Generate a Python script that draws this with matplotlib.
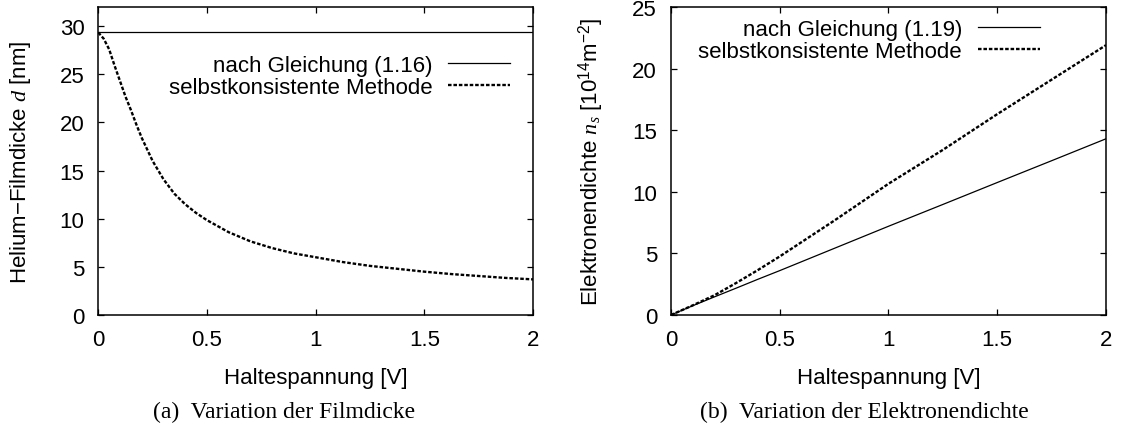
import matplotlib
matplotlib.use('Agg')
import matplotlib.pyplot as plt

plt.rcParams['font.family'] = ['Liberation Sans', 'DejaVu Sans']
plt.rcParams['mathtext.fontset'] = 'custom'
plt.rcParams['mathtext.rm'] = 'Liberation Sans'
plt.rcParams['mathtext.it'] = 'Liberation Serif:italic'

# (a) film thickness vs holding voltage
voltage_a = [0, 0.025, 0.05, 0.075, 0.1, 0.125, 0.15, 0.175, 0.2, 0.25, 0.3, 0.35,
             0.4, 0.45, 0.5, 0.6, 0.7, 0.8, 0.9, 1.0, 1.125, 1.25, 1.375, 1.5,
             1.625, 1.75, 1.875, 2.0]
film_self = [29.35, 28.7, 27.6, 25.9, 24.3, 22.7, 21.3, 19.8, 18.4, 16.0, 14.1, 12.6,
             11.5, 10.6, 9.85, 8.6, 7.65, 6.95, 6.4, 6.0, 5.5, 5.1, 4.8, 4.5,
             4.25, 4.05, 3.85, 3.7]
film_eq = 29.35

# (b) electron density vs holding voltage
voltage_b = [0, 0.1, 0.2, 0.3, 0.4, 0.5, 0.75, 1.0, 1.25, 1.5, 1.75, 2.0]
density_eq = [0, 0.75, 1.47, 2.18, 2.9, 3.6, 5.4, 7.2, 8.97, 10.75, 12.52, 14.3]
density_self = [0, 0.78, 1.6, 2.6, 3.65, 4.75, 7.65, 10.65, 13.4, 16.3, 19.1, 21.9]

xticks = [0, 0.5, 1, 1.5, 2]
xtick_labels = ['0', '0.5', '1', '1.5', '2']

fig = plt.figure(figsize=(11.22, 4.27), dpi=100)
ax1 = fig.add_axes([0.0876, 0.26, 0.3874, 0.7213])
ax2 = fig.add_axes([0.598, 0.26, 0.3877, 0.7213])

dotted = (0, (1.5, 0.8))

ax1.plot(voltage_a, [film_eq] * len(voltage_a), color='black', lw=0.9,
         label='nach Gleichung (1.16)')
ax1.plot(voltage_a, film_self, color='black', lw=1.7, linestyle=dotted,
         label='selbstkonsistente Methode')
ax1.set_ylim(0, 32)
ax1.set_yticks([0, 5, 10, 15, 20, 25, 30])
ax1.set_ylabel('Helium\u2212Filmdicke $d$ [nm]', fontsize=16)

ax2.plot(voltage_b, density_eq, color='black', lw=0.9,
         label='nach Gleichung (1.19)')
ax2.plot(voltage_b, density_self, color='black', lw=1.7, linestyle=dotted,
         label='selbstkonsistente Methode')
ax2.set_ylim(0, 25)
ax2.set_yticks([0, 5, 10, 15, 20, 25])
ax2.set_ylabel('Elektronendichte $n_s$ [10$^{14}$m$^{-2}$]', fontsize=16)

for ax in (ax1, ax2):
    ax.set_xlim(0, 2)
    ax.set_xticks(xticks)
    ax.set_xticklabels(xtick_labels)
    ax.set_xlabel('Haltespannung [V]', fontsize=16, labelpad=12)
    ax.tick_params(direction='in', top=True, right=True, length=4, width=0.9,
                   labelsize=16, pad=10)
    for sp in ax.spines.values():
        sp.set_linewidth(1.1)
    ax.yaxis.set_label_coords(-0.15, 0.5)

legend_opts = dict(loc='upper right', frameon=False, markerfirst=False,
                   alignment='right', fontsize=16, handlelength=2.8,
                   handletextpad=0.7, labelspacing=0.05, borderpad=0,
                   borderaxespad=0)
ax1.legend(bbox_to_anchor=(0.947, 0.845), **legend_opts)
ax2.legend(bbox_to_anchor=(0.848, 0.962), **legend_opts)

fig.text(0.253, 0.035, '(a)  Variation der Filmdicke', ha='center', va='center',
         family=['Liberation Serif', 'DejaVu Serif'], fontsize=17)
fig.text(0.770, 0.035, '(b)  Variation der Elektronendichte', ha='center', va='center',
         family=['Liberation Serif', 'DejaVu Serif'], fontsize=17)

fig.savefig('out.png', dpi=100)
